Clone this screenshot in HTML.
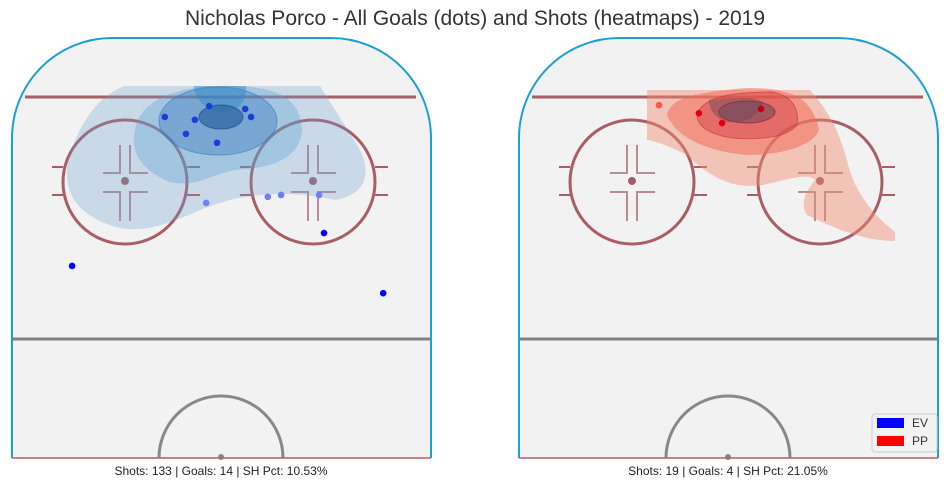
<!DOCTYPE html>
<html><head><meta charset="utf-8"><style>
body{margin:0;background:#fff;width:950px;height:489px;overflow:hidden;font-family:"Liberation Sans",sans-serif}
</style></head><body>
<svg id="chart" width="950" height="489" xmlns="http://www.w3.org/2000/svg">
<text x="475" y="25" text-anchor="middle" font-size="21" fill="#333">Nicholas Porco - All Goals (dots) and Shots (heatmaps) - 2019</text>
<g id="rinkL"></g>
<g id="rinkR" transform="translate(507,0)"></g>
<text x="221" y="475" text-anchor="middle" font-size="12" fill="#222">Shots: 133 | Goals: 14 | SH Pct: 10.53%</text>
<text x="728" y="475" text-anchor="middle" font-size="12" fill="#222">Shots: 19 | Goals: 4 | SH Pct: 21.05%</text>
<g>
<rect x="872" y="414" width="65" height="38" rx="3" fill="#f2f2f2" stroke="#ccc"/>
<rect x="877" y="418" width="27" height="10" fill="#0000ff"/>
<text x="912" y="427" font-size="12" fill="#333">EV</text>
<rect x="877" y="436" width="27" height="10" fill="#ff0000"/>
<text x="912" y="445" font-size="12" fill="#333">PP</text>
</g>
</svg>
<script>
// goals, x = feet from center, y = feet from end boards
const evGoalX=[-2.5,-11.5,-5.4,4.8,6.0,-7.2,-0.9,-3.1,9.4,12.1,19.8,20.8,-30.3,32.8];
const evGoalY=[14.5,16.8,17.4,15.1,16.8,20.4,22.3,35.1,33.8,33.4,33.4,41.5,48.5,54.3];
const evGoalFaded=[0,0,0,0,0,0,0,1,1,1,1,0,0,0];
const ppGoalX=[-14.1,-6.0,-1.3,6.6];
const ppGoalY=[14.3,16.0,18.1,15.1];
const ppGoalFaded=[1,0,0,0];
const NS="http://www.w3.org/2000/svg";
function sx(ft){return 221.5+ft*4.93;}
function sy(ft){return 38+ft*4.7;}
function mk(p,tag,a){const e=document.createElementNS(NS,tag);for(const k in a)e.setAttribute(k,a[k]);p.appendChild(e);return e;}
function rink(g,heat){
  const base=mk(g,'path',{d:'M12,458 V138 A100,100 0 0 1 112,38 H331 A100,100 0 0 1 431,138 V458 Z',fill:'#f2f2f2',stroke:'none'});
  
  
  mk(g,'line',{x1:25,y1:97,x2:416,y2:97,stroke:'#a85e64','stroke-width':3});
  mk(g,'line',{x1:12,y1:339,x2:431,y2:339,stroke:'#808080','stroke-width':3});
  mk(g,'path',{d:'M159,458 A62,62 0 0 1 283,458',fill:'none',stroke:'#888','stroke-width':3});
  mk(g,'circle',{cx:221,cy:457,r:3,fill:'#888'});
  mk(g,'line',{x1:12,y1:458,x2:431,y2:458,stroke:'#b06068','stroke-width':1.5});
  [125,313].forEach(cx=>{
    mk(g,'circle',{cx:cx,cy:182,r:62,fill:'none',stroke:'#a85e64','stroke-width':3});
    mk(g,'path',{d:`M${cx-73},167H${cx-62}M${cx-73},195H${cx-62}M${cx+62},167H${cx+75}M${cx+62},195H${cx+75}`,stroke:'#a85e64','stroke-width':2});
    const c=`M${cx-5},145V173H${cx-22}M${cx+5},145V173H${cx+23}M${cx-5},221V192H${cx-22}M${cx+5},221V192H${cx+23}`;
    mk(g,'path',{d:c,fill:'none',stroke:'#a87078','stroke-width':2,opacity:0.8});
    mk(g,'circle',{cx:cx,cy:181,r:4,fill:'#a06068'});
  });
  heat(g);
  mk(g,'path',{d:'M12,458 V138 A100,100 0 0 1 112,38 H331 A100,100 0 0 1 431,138 V458',fill:'none',stroke:'#1aa0d2','stroke-width':2});
}
function heatL(g){
  mk(g,'path',{d:'M68,160 C80,120 100,95 125,86 L320,86 C335,110 345,125 360,150 C372,175 365,195 335,200 C300,192 265,192 230,200 C190,210 160,235 120,228 C80,218 62,195 68,160Z',fill:'rgba(110,160,210,0.3)'});
  mk(g,'path',{d:'M135,130 C140,100 175,88 215,86 C265,85 300,90 302,130 C300,160 270,168 235,170 C210,175 195,188 170,182 C140,170 130,150 135,130Z',fill:'rgba(90,160,210,0.35)'});
  mk(g,'ellipse',{cx:218,cy:121,rx:59,ry:34,fill:'rgba(60,120,190,0.4)',stroke:'rgba(60,120,190,0.6)'});
  mk(g,'path',{d:'M194,86 H246 C247,100 240,110 225,112 C205,112 196,100 194,86Z',fill:'rgba(50,140,200,0.5)'});
  mk(g,'ellipse',{cx:221,cy:117,rx:22,ry:12,fill:'rgba(40,100,160,0.7)',stroke:'rgba(40,80,150,0.8)'});
  evGoalX.forEach((v,i)=>{
    const c=mk(g,'circle',{cx:sx(v),cy:sy(evGoalY[i]),r:3.3,fill:evGoalFaded[i]?'#6f80f0':(evGoalY[i]<25?'#1a3fd8':'#0000ff')});
    
    
  });
}
function heatR(g){
  mk(g,'path',{d:'M140,90 L303,90 C320,110 330,125 340,160 C345,185 360,210 388,232 L388,241 C360,241 330,230 300,215 C290,200 305,185 308,180 C300,172 280,180 255,185 C225,190 200,175 180,155 C160,145 145,140 140,140Z',fill:'rgba(240,140,110,0.45)'});
  mk(g,'path',{d:'M160,115 C162,98 190,92 240,88 C280,88 305,95 312,130 C305,148 270,155 240,155 C205,152 170,140 160,115Z',fill:'rgba(240,110,90,0.55)'});
  mk(g,'path',{d:'M190,115 C195,98 220,92 265,92 C285,95 293,110 290,125 C280,138 250,140 225,138 C200,134 190,125 190,115Z',fill:'rgba(210,60,70,0.45)',stroke:'rgba(200,50,60,0.6)'});
  mk(g,'path',{d:'M202,100 C230,97 250,97 256,102 C252,118 235,124 220,122 C208,118 202,110 202,100Z',fill:'rgba(110,80,90,0.5)'});
  mk(g,'ellipse',{cx:240,cy:112,rx:28,ry:11,fill:'rgba(110,70,90,0.55)',stroke:'rgba(150,30,50,0.7)'});
  ppGoalX.forEach((v,i)=>{
    const c=mk(g,'circle',{cx:sx(v),cy:sy(ppGoalY[i]),r:3.3,fill:ppGoalFaded[i]?'#ff5544':(i==3?'#c00010':'#e00010')});
    
    
  });
}
rink(document.getElementById('rinkL'),heatL);
rink(document.getElementById('rinkR'),heatR);
</script>
</body></html>
